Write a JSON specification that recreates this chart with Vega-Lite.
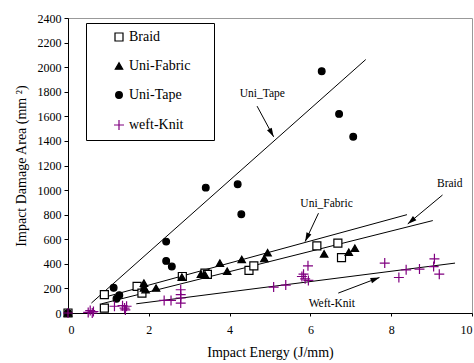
{
  "$schema": "https://vega.github.io/schema/vega-lite/v6.json",
  "autosize": {"type": "none"},
  "padding": {"left": 68, "top": 18, "right": 2, "bottom": 50},
  "width": 404,
  "height": 295,
  "background": "white",
  "config": {
    "view": {"stroke": "#999999", "strokeWidth": 1},
    "font": "Liberation Serif",
    "text": {"font": "Liberation Serif"},
    "axis": {
      "grid": false,
      "domainColor": "black",
      "tickColor": "black",
      "labelColor": "black",
      "titleColor": "black",
      "labelFont": "Liberation Serif",
      "titleFont": "Liberation Serif",
      "labelFontSize": 12,
      "titleFontSize": 14,
      "titleFontWeight": "normal",
      "tickSize": 4
    },
    "legend": {
      "orient": "none",
      "legendX": 18,
      "legendY": 5,
      "strokeColor": "black",
      "fillColor": "white",
      "padding": 7,
      "symbolOffset": 19,
      "labelOffset": 3,
      "rowPadding": 15,
      "labelFont": "Liberation Serif",
      "titleFont": "Liberation Serif",
      "labelFontSize": 14,
      "labelColor": "black",
      "symbolStrokeWidth": 1.2,
      "titleOrient": "right",
      "titlePadding": 17,
      "titleFontSize": 13.5
    }
  },
  "datasets": {
    "pts": [
      {"s": "Braid", "x": 0, "y": 0},
      {"s": "Braid", "x": 0.9, "y": 149},
      {"s": "Braid", "x": 0.9, "y": 40},
      {"s": "Braid", "x": 1.71, "y": 216},
      {"s": "Braid", "x": 1.83, "y": 162},
      {"s": "Braid", "x": 2.83, "y": 297},
      {"s": "Braid", "x": 3.39, "y": 325},
      {"s": "Braid", "x": 3.45, "y": 315},
      {"s": "Braid", "x": 4.48, "y": 346},
      {"s": "Braid", "x": 4.6, "y": 384},
      {"s": "Braid", "x": 6.16, "y": 546},
      {"s": "Braid", "x": 6.68, "y": 568},
      {"s": "Braid", "x": 6.77, "y": 451},
      {"s": "Uni-Fabric", "x": 0, "y": 0},
      {"s": "Uni-Fabric", "x": 1.88, "y": 243},
      {"s": "Uni-Fabric", "x": 1.88, "y": 203},
      {"s": "Uni-Fabric", "x": 1.92, "y": 190},
      {"s": "Uni-Fabric", "x": 2.18, "y": 203},
      {"s": "Uni-Fabric", "x": 2.82, "y": 292},
      {"s": "Uni-Fabric", "x": 3.29, "y": 315},
      {"s": "Uni-Fabric", "x": 3.39, "y": 311},
      {"s": "Uni-Fabric", "x": 3.76, "y": 406},
      {"s": "Uni-Fabric", "x": 3.94, "y": 340},
      {"s": "Uni-Fabric", "x": 4.3, "y": 436},
      {"s": "Uni-Fabric", "x": 4.86, "y": 443},
      {"s": "Uni-Fabric", "x": 4.94, "y": 490},
      {"s": "Uni-Fabric", "x": 6.34, "y": 481},
      {"s": "Uni-Fabric", "x": 6.95, "y": 495},
      {"s": "Uni-Fabric", "x": 7.1, "y": 527},
      {"s": "Uni-Tape", "x": 0, "y": 0},
      {"s": "Uni-Tape", "x": 1.13, "y": 205},
      {"s": "Uni-Tape", "x": 1.2, "y": 116},
      {"s": "Uni-Tape", "x": 1.27, "y": 145},
      {"s": "Uni-Tape", "x": 2.43, "y": 581},
      {"s": "Uni-Tape", "x": 2.43, "y": 424},
      {"s": "Uni-Tape", "x": 2.57, "y": 378},
      {"s": "Uni-Tape", "x": 3.41, "y": 1020},
      {"s": "Uni-Tape", "x": 4.2, "y": 1047},
      {"s": "Uni-Tape", "x": 4.29, "y": 803},
      {"s": "Uni-Tape", "x": 6.28, "y": 1967},
      {"s": "Uni-Tape", "x": 6.71, "y": 1620},
      {"s": "Uni-Tape", "x": 7.06, "y": 1434},
      {"s": "weft-Knit", "x": 0, "y": 0},
      {"s": "weft-Knit", "x": 0.5, "y": 5},
      {"s": "weft-Knit", "x": 0.55, "y": 20},
      {"s": "weft-Knit", "x": 0.6, "y": 0},
      {"s": "weft-Knit", "x": 0.63, "y": 12},
      {"s": "weft-Knit", "x": 1.15, "y": 55},
      {"s": "weft-Knit", "x": 1.35, "y": 60},
      {"s": "weft-Knit", "x": 1.4, "y": 40},
      {"s": "weft-Knit", "x": 1.45, "y": 55},
      {"s": "weft-Knit", "x": 1.42, "y": 25},
      {"s": "weft-Knit", "x": 2.38, "y": 102},
      {"s": "weft-Knit", "x": 2.55, "y": 102},
      {"s": "weft-Knit", "x": 2.79, "y": 189},
      {"s": "weft-Knit", "x": 2.79, "y": 149},
      {"s": "weft-Knit", "x": 2.79, "y": 122},
      {"s": "weft-Knit", "x": 2.79, "y": 81},
      {"s": "weft-Knit", "x": 5.09, "y": 211},
      {"s": "weft-Knit", "x": 5.39, "y": 227},
      {"s": "weft-Knit", "x": 5.83, "y": 316},
      {"s": "weft-Knit", "x": 5.79, "y": 297},
      {"s": "weft-Knit", "x": 5.87, "y": 278},
      {"s": "weft-Knit", "x": 5.95, "y": 265},
      {"s": "weft-Knit", "x": 5.94, "y": 384},
      {"s": "weft-Knit", "x": 7.84, "y": 406},
      {"s": "weft-Knit", "x": 8.19, "y": 289},
      {"s": "weft-Knit", "x": 8.37, "y": 351},
      {"s": "weft-Knit", "x": 8.7, "y": 357},
      {"s": "weft-Knit", "x": 9.07, "y": 441},
      {"s": "weft-Knit", "x": 9.05, "y": 378},
      {"s": "weft-Knit", "x": 9.19, "y": 316}
    ],
    "fits": [
      {"s": "Uni-Tape", "x": 0.58, "y": 81, "x2": 7.37, "y2": 2062},
      {"s": "Uni-Fabric", "x": 0.83, "y": 122, "x2": 8.39, "y2": 800},
      {"s": "Braid", "x": 0.83, "y": 75, "x2": 9.03, "y2": 752},
      {"s": "weft-Knit", "x": 1.69, "y": 75, "x2": 9.58, "y2": 406}
    ],
    "arrows": [
      {"label": "Uni_Tape", "tx": 4.81, "ty": 1780, "x": 4.68, "y": 1683, "x2": 5.09, "y2": 1433, "angle": 151.6},
      {"label": "Uni_Fabric", "tx": 6.4, "ty": 885, "x": 6.2, "y": 812, "x2": 5.87, "y2": 581, "angle": 205},
      {"label": "Braid", "tx": 9.45, "ty": 1047, "x": 9.27, "y": 960, "x2": 8.41, "y2": 725, "angle": 230},
      {"label": "Weft-Knit", "tx": 6.53, "ty": 75, "x": 6.69, "y": 162, "x2": 7.71, "y2": 289, "angle": 69.5}
    ]
  },
  "encoding": {
    "x": {
      "field": "x", "type": "quantitative",
      "scale": {"domain": [0, 10], "nice": false, "zero": false},
      "axis": {"title": "Impact Energy (J/mm)", "values": [0, 2, 4, 6, 8, 10], "format": "d", "labelPadding": 8, "titlePadding": 10, "tickSize": 3}
    },
    "y": {
      "field": "y", "type": "quantitative",
      "scale": {"domain": [0, 2400], "nice": false, "zero": false},
      "axis": {"title": "Impact Damage Area (mm ²)", "values": [0, 200, 400, 600, 800, 1000, 1200, 1400, 1600, 1800, 2000, 2200, 2400], "format": "d", "labelPadding": 3, "titlePadding": 9}
    }
  },
  "layer": [
    {
      "data": {"name": "fits"},
      "mark": {"type": "rule", "color": "black", "strokeWidth": 1},
      "encoding": {
        "x2": {"field": "x2"},
        "y2": {"field": "y2"}
      }
    },
    {
      "data": {"name": "arrows"},
      "mark": {"type": "rule", "color": "black", "strokeWidth": 1},
      "encoding": {
        "x2": {"field": "x2"},
        "y2": {"field": "y2"}
      }
    },
    {
      "data": {"name": "arrows"},
      "mark": {"type": "point", "shape": "M0,0L0.3,1L-0.3,1Z", "filled": true, "color": "black", "size": 324, "opacity": 1},
      "encoding": {
        "x": {"field": "x2", "type": "quantitative"},
        "y": {"field": "y2", "type": "quantitative"},
        "angle": {"field": "angle", "type": "quantitative", "scale": null}
      }
    },
    {
      "data": {"name": "arrows"},
      "mark": {"type": "text", "font": "Liberation Serif", "fontSize": 11.5, "color": "black"},
      "encoding": {
        "x": {"field": "tx", "type": "quantitative"},
        "y": {"field": "ty", "type": "quantitative"},
        "text": {"field": "label"}
      }
    },
    {
      "data": {"name": "pts"},
      "mark": {"type": "point", "strokeWidth": 1.2, "opacity": 1},
      "encoding": {
        "shape": {
          "field": "s", "type": "nominal",
          "scale": {"domain": ["Braid", "Uni-Fabric", "Uni-Tape", "weft-Knit"], "range": ["square", "triangle-up", "circle", "M-1,0H1M0,-1V1"]},
          "legend": {"title": " "}
        },
        "fill": {
          "field": "s", "type": "nominal",
          "scale": {"domain": ["Braid", "Uni-Fabric", "Uni-Tape", "weft-Knit"], "range": ["white", "black", "black", "transparent"]},
          "legend": {"title": " "}
        },
        "stroke": {
          "field": "s", "type": "nominal",
          "scale": {"domain": ["Braid", "Uni-Fabric", "Uni-Tape", "weft-Knit"], "range": ["black", "black", "black", "#800080"]},
          "legend": {"title": " "}
        },
        "size": {
          "field": "s", "type": "nominal",
          "scale": {"type": "ordinal", "domain": ["Braid", "Uni-Fabric", "Uni-Tape", "weft-Knit"], "range": [64, 55, 45, 100]},
          "legend": {"title": " "}
        }
      }
    }
  ]
}
